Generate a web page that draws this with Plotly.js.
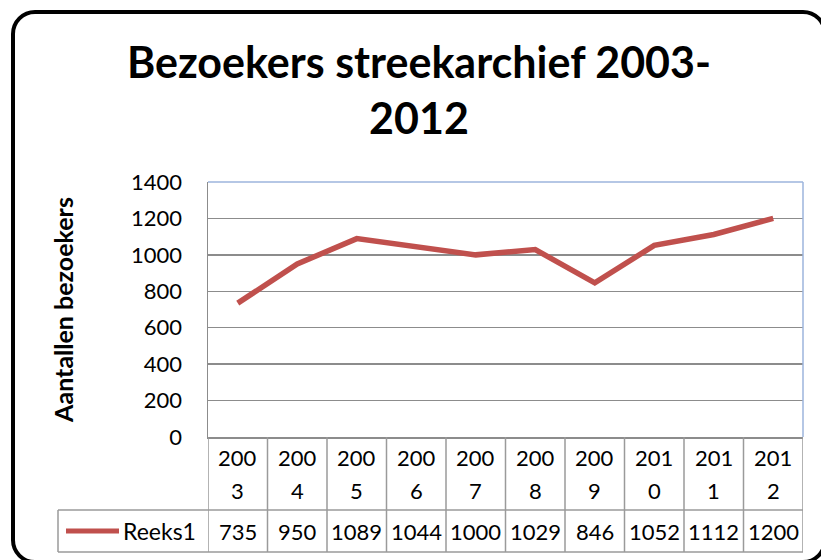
<!DOCTYPE html>
<html><head><meta charset="utf-8">
<script src="https://cdn.plot.ly/plotly-3.0.1.min.js"></script>
<style>
html,body{margin:0;padding:0;background:#fff;}
#wrap{position:relative;width:821px;height:560px;overflow:hidden;}
#chart{width:821px;height:560px;}
#frame{position:absolute;left:11px;top:10px;width:816px;height:554px;border:4px solid #000;border-radius:24px;box-sizing:border-box;pointer-events:none;}
</style>
</head><body><div id="wrap"><div id="chart"></div><div id="frame"></div></div>
<script>
// ---- data ----
const categories = ['2003','2004','2005','2006','2007','2008','2009','2010','2011','2012'];
const seriesName = 'Reeks1';
const values = [735, 950, 1089, 1044, 1000, 1029, 846, 1052, 1112, 1200];
const yTickVals = [0, 200, 400, 600, 800, 1000, 1200, 1400];
const chartTitle = 'Bezoekers streekarchief 2003-<br>2012';
const yTitle = 'Aantallen bezoekers';

// ---- layout helpers ----
const W = 821, H = 560, M = {l: 208, r: 18, t: 182, b: 123};
const PW = W - M.l - M.r, PH = H - M.t - M.b;
const px2x = px => (px - M.l) / PW;
const py2y = py => (H - M.b - py) / PH;

const FONT = 'Lato, Carlito, Calibri, sans-serif';
const RED = '#C0504D';
const GRID = '#8c8c8c';
const TABLE = '#9a9a9a';
const BORDER = '#9db5dc';

const xIdx = categories.map((c, i) => i);

const shapes = [];
// plot area top & right border (blue)
shapes.push({type:'line', xref:'paper', yref:'paper', x0:0, x1:1, y0:1, y1:1, line:{color:BORDER, width:1.5}});
shapes.push({type:'line', xref:'paper', yref:'paper', x0:1, x1:1, y0:0, y1:1, line:{color:BORDER, width:1.5}});
// data table lines
const yRow1 = py2y(510), yRow2 = py2y(552);
for (let i = 0; i <= categories.length; i++) {
  shapes.push({type:'line', xref:'x', yref:'paper', x0:i - 0.5, x1:i - 0.5, y0:yRow2, y1:0, line:{color:TABLE, width:1.5}});
}
shapes.push({type:'line', xref:'paper', yref:'paper', x0:px2x(58), x1:1, y0:yRow1, y1:yRow1, line:{color:TABLE, width:1.5}});
shapes.push({type:'line', xref:'paper', yref:'paper', x0:px2x(58), x1:1, y0:yRow2, y1:yRow2, line:{color:TABLE, width:1.5}});
shapes.push({type:'line', xref:'paper', yref:'paper', x0:px2x(58), x1:px2x(58), y0:yRow2, y1:yRow1, line:{color:TABLE, width:1.5}});
// legend key
shapes.push({type:'line', xref:'paper', yref:'paper', x0:px2x(66), x1:px2x(119), y0:py2y(531), y1:py2y(531), line:{color:RED, width:5}});

const annotations = [];
const tf = {family: FONT, size: 22, color: '#000'};
categories.forEach((c, i) => {
  annotations.push({x:i, xref:'x', y:py2y(457), yref:'paper', text:c.slice(0, 3), showarrow:false, font:tf, xanchor:'center', yanchor:'middle'});
  annotations.push({x:i, xref:'x', y:py2y(490), yref:'paper', text:c.slice(3), showarrow:false, font:tf, xanchor:'center', yanchor:'middle'});
  annotations.push({x:i, xref:'x', y:py2y(531), yref:'paper', text:String(values[i]), showarrow:false, font:tf, xanchor:'center', yanchor:'middle'});
});
annotations.push({x:px2x(121), xref:'paper', y:py2y(531), yref:'paper', text:seriesName, showarrow:false, font:{family: FONT, size: 23, color: '#000'}, xanchor:'left', yanchor:'middle'});

const trace = {
  x: xIdx, y: values, type: 'scatter', mode: 'lines', name: seriesName,
  line: {color: RED, width: 5.5}, showlegend: false, hoverinfo: 'y'
};

const layout = {
  width: W, height: H,
  margin: {l: M.l, r: M.r, t: M.t, b: M.b, pad: 0},
  paper_bgcolor: '#fff', plot_bgcolor: '#fff',
  showlegend: false,
  title: {text: chartTitle, font: {family: FONT, size: 43, color: '#000', weight: 700},
          x: 419/821, xanchor: 'center', xref: 'container', y: 1 - 78/560, yref: 'container', yanchor: 'middle'},
  xaxis: {range: [-0.5, categories.length - 0.5], showticklabels: false, showgrid: false, zeroline: false,
          showline: true, linecolor: GRID, linewidth: 1.5, ticks: '', fixedrange: true},
  yaxis: {range: [0, 1400], tickvals: yTickVals, ticktext: yTickVals.map(String), showgrid: true, gridcolor: GRID, gridwidth: 1.5,
          zeroline: false, showline: true, linecolor: GRID, linewidth: 1.5, ticks: '', ticklabelstandoff: 20,
          tickfont: {family: FONT, size: 22, color: '#000'},
          title: {text: yTitle, font: {family: FONT, size: 25, color: '#000', weight: 700}, standoff: 50}, fixedrange: true},
  shapes: shapes,
  annotations: annotations
};

Plotly.newPlot('chart', [trace], layout, {displayModeBar: false, staticPlot: true});
</script>
</body></html>
